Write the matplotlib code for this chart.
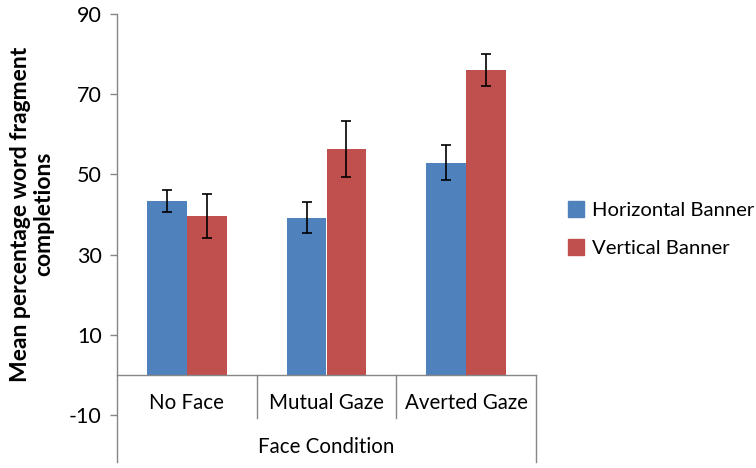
import matplotlib.pyplot as plt
from matplotlib.patches import Patch

plt.rcParams['font.family'] = ['Lato', 'DejaVu Sans']
plt.rcParams['axes.unicode_minus'] = False

# data
conditions = ['No Face', 'Mutual Gaze', 'Averted Gaze']
series = ['Horizontal Banner', 'Vertical Banner']
horizontal = [43.4, 39.2, 52.9]
horizontal_err = [2.75, 3.9, 4.4]
vertical = [39.6, 56.3, 76.1]
vertical_err = [5.4, 7.0, 4.0]
yticks = [-10, 10, 30, 50, 70, 90]

blue = '#4F81BD'
red = '#C0504D'
grey = '#868686'

fig = plt.figure(figsize=(7.56, 4.68), dpi=100)
ax = fig.add_axes([117 / 756, 6 / 468, 419 / 756, 448 / 468])

x = list(range(len(conditions)))
w = 0.2857
err_kw = dict(ecolor='black', elinewidth=1.2, capsize=3.6, capthick=1.2)
ax.bar([i - w / 2 for i in x], horizontal, w, yerr=horizontal_err,
       color=blue, error_kw=err_kw, zorder=2)
ax.bar([i + w / 2 for i in x], vertical, w, yerr=vertical_err,
       color=red, error_kw=err_kw, zorder=2)

ax.set_xlim(-0.5, 2.5)
ax.set_ylim(-21.7, 90)
ax.set_yticks(yticks)
ax.set_xticks([])
for s in ['top', 'right', 'bottom']:
    ax.spines[s].set_visible(False)
ax.spines['left'].set_color(grey)
ax.spines['left'].set_linewidth(1)
ax.tick_params(axis='y', colors=grey, labelcolor='black', labelsize=15.5,
               length=5, width=1, pad=6)

# category table below the zero line
ax.plot([-0.5, 2.5], [0, 0], color=grey, lw=1, clip_on=False, zorder=3)
for xd in [0.5, 1.5]:
    ax.plot([xd, xd], [0, -10.7], color=grey, lw=1, clip_on=False)
ax.plot([2.5, 2.5], [0, -21.7], color=grey, lw=1, clip_on=False)
for i, c in enumerate(conditions):
    ax.text(i, -7.0, c, ha='center', va='center', fontsize=14.8)
ax.text(1, -18.0, 'Face Condition', ha='center', va='center', fontsize=14.8)

fig.text(32 / 756, 1 - 214 / 468, 'Mean percentage word fragment\ncompletions',
         rotation=90, ha='center', va='center', fontsize=16.5,
         fontweight='bold', linespacing=1.15)

handles = [Patch(color=blue), Patch(color=red)]
fig.legend(handles, series, loc='center left',
           bbox_to_anchor=(562 / 756, 1 - 229 / 468), frameon=False,
           fontsize=14.6, handlelength=0.8, handleheight=0.8,
           handletextpad=0.4, labelspacing=1.0, borderaxespad=0,
           borderpad=0.3)

fig.savefig('out.png', dpi=100)
